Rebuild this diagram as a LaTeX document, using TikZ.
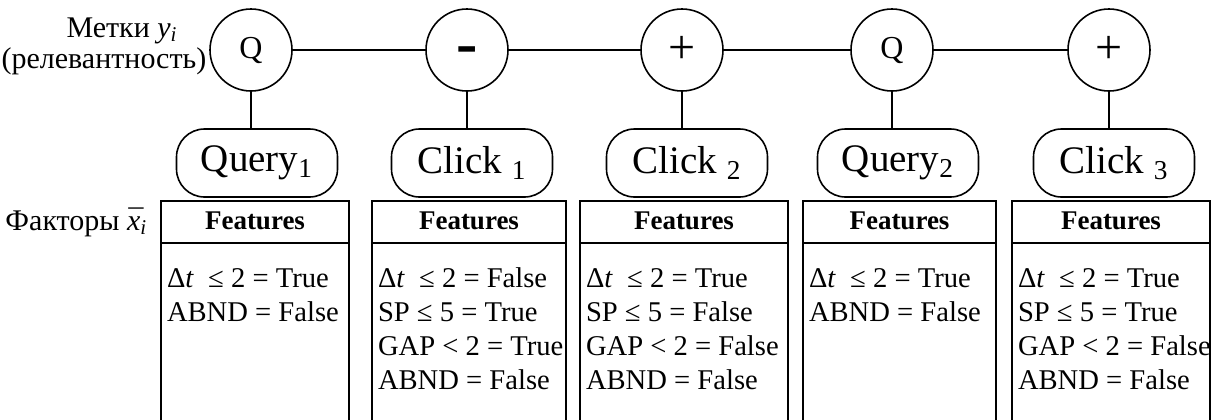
\documentclass[tikz,border=0pt]{standalone}
\usepackage{fontspec}
\setmainfont{Liberation Serif}
\tikzset{
  lbl/.style={circle, draw, line width=0.8pt, minimum size=41pt, inner sep=0pt, font=\fontsize{16}{16}\selectfont},
  evt/.style={draw, line width=0.8pt, rounded corners=14pt, minimum width=80.5pt, minimum height=34pt, inner sep=0pt, font=\fontsize{19.5}{19.5}\selectfont},
  feat/.style={draw, line width=0.8pt, anchor=north, inner sep=0pt, minimum height=116pt},
  ftxt/.style={anchor=base west, inner sep=0pt, font=\fontsize{14.3}{14.3}\selectfont},
  side/.style={inner sep=0pt, font=\fontsize{15}{15}\selectfont},
}
\begin{document}
\begin{tikzpicture}[x=0.5pt, y=-0.5pt, line width=0.8pt]
        \useasboundingbox (0, 0) rectangle (1212, 419);
        % side labels
        \node[side, anchor=base] (mtk) at (122, 37) {Метки \textit{y}\textsubscript{\textit{i}}};
        \node[side, anchor=base] (rel) at (104, 68) {(релевантность)};
        \node[side, anchor=east] (fkt) at (148, 222) {Факторы \textit{\accent"AF x}\textsubscript{\textit{i}}};
        % labels
        \node[lbl] (y1) at (251, 50) {Q};
        \node[lbl] (y2) at (467, 50) {\smash{\raisebox{-7.4pt}{\fontsize{32}{32}\selectfont\bfseries -}}};
        \node[lbl] (y3) at (682, 50) {\fontsize{24}{24}\selectfont +};
        \node[lbl] (y4) at (892, 50) {Q};
        \node[lbl] (y5) at (1109, 50) {\fontsize{24}{24}\selectfont +};
        % events
        \node[evt] (e1) at (257, 163) {Query\textsubscript{1}};
        \node[evt] (e2) at (472, 163) {Click \textsubscript{1}};
        \node[evt] (e3) at (687, 163) {Click \textsubscript{2}};
        \node[evt] (e4) at (898, 163) {Query\textsubscript{2}};
        \node[evt] (e5) at (1114, 163) {Click \textsubscript{3}};
        % features
        \node[feat, minimum width=94pt] (f1) at (255, 200) {};
        \node[feat, minimum width=97pt] (f2) at (469, 200) {};
        \node[feat, minimum width=104pt] (f3) at (684, 200) {};
        \node[feat, minimum width=96.5pt] (f4) at (899.5, 200) {};
        \node[feat, minimum width=99pt] (f5) at (1111, 200) {};
        \foreach \n/\l in {
            f1/{Δ\textit{t}\ \ ≤ 2 = True, ABND = False},
            f2/{Δ\textit{t}\ \ ≤ 2 = False, SP ≤ 5 = True, GAP < 2 = True, ABND = False},
            f3/{Δ\textit{t}\ \ ≤ 2 = True, SP ≤ 5 = False, GAP < 2 = False, ABND = False},
            f4/{Δ\textit{t}\ \ ≤ 2 = True, ABND = False},
            f5/{Δ\textit{t}\ \ ≤ 2 = True, SP ≤ 5 = True, GAP < 2 = False, ABND = False}} {
          \draw ([yshift=-21.5pt]\n.north west) coordinate (\n-hl) -- ([yshift=-21.5pt]\n.north east) coordinate (\n-hr);
          \node[ftxt, font=\fontsize{13.5}{13.5}\selectfont\bfseries, anchor=base] (\n-h) at ([yshift=-14.5pt]\n.north) {Features};
          \foreach \s [count=\k] in \l
            \node[ftxt] (\n-\k) at ([xshift=3pt, yshift={-26.5pt-17pt*\k}]\n.north west) {\s};
        }
        % lines
        \draw (y1) -- (y2);
        \draw (y2) -- (y3);
        \draw (y3) -- (y4);
        \draw (y4) -- (y5);
        \foreach \i in {1,...,5}
          \draw (y\i.south) -- (y\i.south |- e\i.north);
      \end{tikzpicture}
\end{document}
